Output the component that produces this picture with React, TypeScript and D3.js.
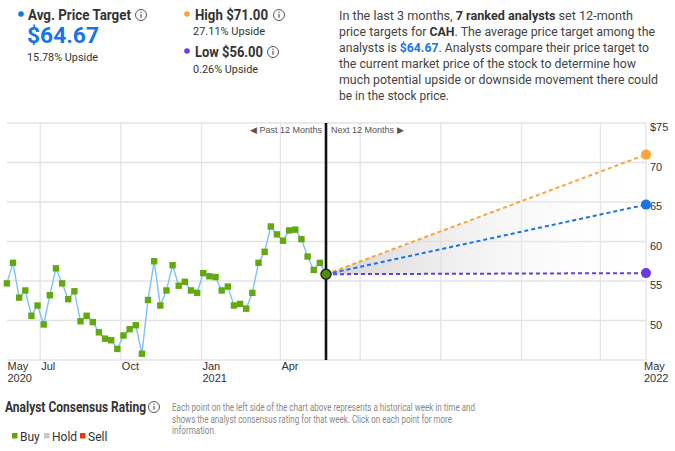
import * as React from 'react';
import { scaleLinear, scaleTime, line, timeWeek, timeFormat } from 'd3';

// weekly consensus price target history (last 12 months)
const histValues = [
  54.7, 57.3, 52.9, 53.8, 50.6, 51.9, 49.5, 53.2, 56.6, 54.7, 52.7, 53.7, 49.9,
  50.6, 49.8, 48.5, 47.7, 47.5, 46.4, 48.1, 48.9, 49.4, 45.8, 52.6, 57.5, 51.9,
  53.8, 57.0, 54.4, 54.9, 53.8, 53.5, 56.0, 55.6, 55.5, 53.8, 54.3, 51.9, 52.1,
  51.5, 53.5, 57.3, 58.7, 61.9, 60.9, 60.1, 61.4, 61.5, 60.3, 58.1, 56.4, 57.3, 55.86,
];
const currentPrice = 55.86;
const targets = [
  { key: 'high', value: 71.0, color: '#f9a53a' },
  { key: 'avg', value: 64.67, color: '#1a73e8' },
  { key: 'low', value: 56.0, color: '#6a3be4' },
];
const yTicks = [75, 70, 65, 60, 55, 50, 45];
const pastTicks = ['2020-07-01', '2020-10-01', '2021-01-01', '2021-04-01'];
const futureTicks = ['2021-07-01', '2021-10-01', '2022-01-01', '2022-04-01', '2022-05-23'];

const today = new Date('2021-05-23T00:00:00');
const yearAgo = new Date('2020-05-23T00:00:00');
const yearAhead = new Date('2022-05-23T00:00:00');
const histDates = histValues.map((_, i) => timeWeek.offset(today, i - (histValues.length - 1)));

const W = 675, H = 451;
const TOP = 123, BOTTOM = 360, X0 = 6, XMID = 326, X1 = 646;
const SANS = 'Roboto, "Liberation Sans", Arial, sans-serif';
const AX = '"Liberation Sans", Arial, sans-serif';
const FIT = 'spacingAndGlyphs';

const InfoIcon = ({ x, y }: { x: number; y: number }) => (
  <g>
    <circle cx={x} cy={y} r={5.5} fill="none" stroke="#555" strokeWidth={1} />
    <rect x={x - 0.6} y={y - 1} width={1.2} height={3.8} fill="#555" />
    <rect x={x - 0.6} y={y - 3.4} width={1.2} height={1.3} fill="#555" />
  </g>
);

export default function App() {
  const y = scaleLinear().domain([45, 75]).range([BOTTOM, TOP]);
  const xPast = scaleTime().domain([yearAgo, today]).range([X0, XMID]);
  const xFut = scaleTime().domain([today, yearAhead]).range([XMID, X1]);
  const fmtM = timeFormat('%b');

  const histLine = line<number>()
    .x((_, i) => xPast(histDates[i]))
    .y((d) => y(d))(histValues) as string;

  const cy = y(currentPrice);
  const high = targets[0], low = targets[2];

  return (
    <svg width={W} height={H} style={{ position: 'absolute', left: 0, top: 0, background: '#fff' }}
      fontFamily={SANS}>
      <defs>
        <linearGradient id="fan" x1="0" x2="1" y1="0" y2="0">
          <stop offset="0" stopColor="#cfcfcf" stopOpacity={0.9} />
          <stop offset="1" stopColor="#ffffff" stopOpacity={0} />
        </linearGradient>
      </defs>

      {/* header */}
      <circle cx={21} cy={14} r={2.8} fill="#1a73e8" />
      <text x={28} y={19.5} fontSize={14} fontWeight={700} fill="#333" textLength={103} lengthAdjust={FIT}>Avg. Price Target</text>
      <InfoIcon x={141} y={15} />
      <text x={27} y={43} fontSize={22.5} fontWeight={700} fill="#1a73e8" textLength={72} lengthAdjust={FIT}>$64.67</text>
      <text x={27} y={61} fontSize={11.5} fill="#333" textLength={71} lengthAdjust={FIT}>15.78% Upside</text>

      <circle cx={187} cy={14} r={2.8} fill={high.color} />
      <text x={195} y={19.5} fontSize={14} fontWeight={700} fill="#333" textLength={73} lengthAdjust={FIT}>High $71.00</text>
      <InfoIcon x={279} y={15} />
      <text x={193} y={35} fontSize={11.5} fill="#333" textLength={72} lengthAdjust={FIT}>27.11% Upside</text>
      <circle cx={187} cy={51} r={2.8} fill={low.color} />
      <text x={195} y={57} fontSize={14} fontWeight={700} fill="#333" textLength={68} lengthAdjust={FIT}>Low $56.00</text>
      <InfoIcon x={273} y={52} />
      <text x={193} y={73} fontSize={11.5} fill="#333" textLength={65} lengthAdjust={FIT}>0.26% Upside</text>

      <g fontSize={12} fill="#444">
        <text x={339} y={20} textLength={294} lengthAdjust={FIT}>In the last 3 months, <tspan fontWeight={700} fill="#333">7 ranked analysts</tspan> set 12-month</text>
        <text x={339} y={36} textLength={316} lengthAdjust={FIT}>price targets for <tspan fontWeight={700} fill="#333">CAH</tspan>. The average price target among the</text>
        <text x={339} y={52} textLength={310} lengthAdjust={FIT}>analysts is <tspan fontWeight={700} fill="#1a73e8">$64.67</tspan>. Analysts compare their price target to</text>
        <text x={339} y={68} textLength={297} lengthAdjust={FIT}>the current market price of the stock to determine how</text>
        <text x={339} y={84} textLength={319} lengthAdjust={FIT}>much potential upside or downside movement there could</text>
        <text x={339} y={100} textLength={110} lengthAdjust={FIT}>be in the stock price.</text>
      </g>

      {/* grid */}
      <g stroke="#e3e3e3" strokeWidth={1.3}>
        {yTicks.map((t) => (
          <line key={t} x1={7} x2={X1} y1={y(t)} y2={y(t)} />
        ))}
        {pastTicks.map((d) => (
          <line key={d} x1={xPast(new Date(d + 'T00:00:00'))} x2={xPast(new Date(d + 'T00:00:00'))} y1={TOP} y2={BOTTOM} />
        ))}
        {futureTicks.map((d) => (
          <line key={d} x1={xFut(new Date(d + 'T00:00:00'))} x2={xFut(new Date(d + 'T00:00:00'))} y1={TOP} y2={BOTTOM} />
        ))}
      </g>

      {/* y axis labels */}
      <g fontFamily={AX} fontSize={11} fill="#333">
        {yTicks.filter((t) => t !== 45).map((t, i) => (
          <text key={t} x={650} y={y(t) + 8}>{i === 0 ? '$' + t : t}</text>
        ))}
      </g>

      {/* x axis labels */}
      <g fontFamily={AX} fontSize={11} fill="#333">
        <text x={xPast(yearAgo) + 1.5} y={370}>May</text>
        <text x={xPast(yearAgo) + 1.5} y={381.5}>2020</text>
        {pastTicks.map((d) => {
          const dt = new Date(d + 'T00:00:00');
          return (
            <g key={d}>
              <text x={xPast(dt) + 1} y={370}>{fmtM(dt)}</text>
              {dt.getMonth() === 0 && <text x={xPast(dt) + 1} y={381.5}>{dt.getFullYear()}</text>}
            </g>
          );
        })}
        <text x={xFut(yearAhead) - 2} y={370}>May</text>
        <text x={xFut(yearAhead) - 2} y={381.5}>2022</text>
      </g>

      {/* forecast fan */}
      <path d={`M${XMID},${cy}L${X1},${y(high.value)}L${X1},${y(low.value)}Z`} fill="url(#fan)" />
      {targets.map((t) => (
        <line key={t.key} x1={XMID} y1={cy} x2={xFut(yearAhead)} y2={y(t.value)}
          stroke={t.color} strokeWidth={2} strokeDasharray="4 3" />
      ))}
      {targets.map((t) => (
        <circle key={t.key} cx={xFut(yearAhead)} cy={y(t.value)} r={5} fill={t.color} />
      ))}

      {/* history */}
      <path d={histLine} fill="none" stroke="#7cc1ff" strokeWidth={1.4} />
      {histValues.slice(0, -1).map((v, i) => (
        <rect key={i} x={xPast(histDates[i]) - 3.2} y={y(v) - 3.2} width={6.4} height={6.4} fill="#62a80f" />
      ))}

      {/* today divider */}
      <line x1={XMID} x2={XMID} y1={TOP} y2={BOTTOM} stroke="#111" strokeWidth={2.6} />
      <circle cx={XMID} cy={cy} r={5} fill="#4f8d0c" stroke="#222" strokeWidth={1.5} />
      <g fontFamily={AX} fontSize={9} fill="#555">
        <text x={322} y={133} textAnchor="end">◀ Past 12 Months</text>
        <text x={331} y={133}>Next 12 Months ▶</text>
      </g>

      {/* rating legend */}
      <text x={5} y={412} fontSize={14.5} fontWeight={700} fill="#333" textLength={141} lengthAdjust={FIT}>Analyst Consensus Rating</text>
      <InfoIcon x={154} y={407} />
      <g fontSize={10} fill="#8a8a8a">
        <text x={172} y={411} textLength={303} lengthAdjust={FIT}>Each point on the left side of the chart above represents a historical week in time and</text>
        <text x={172} y={423} textLength={280} lengthAdjust={FIT}>shows the analyst consensus rating for that week. Click on each point for more</text>
        <text x={172} y={434} textLength={44} lengthAdjust={FIT}>information.</text>
      </g>
      <g fontSize={12} fill="#333">
        <rect x={12} y={433} width={5.5} height={5.5} fill="#5fa80a" />
        <text x={20} y={441}>Buy</text>
        <rect x={44} y={433} width={5.5} height={5.5} fill="#c8c8c8" />
        <text x={52} y={441}>Hold</text>
        <rect x={80} y={433} width={5.5} height={5.5} fill="#e8380d" />
        <text x={88} y={441}>Sell</text>
      </g>
    </svg>
  );
}
